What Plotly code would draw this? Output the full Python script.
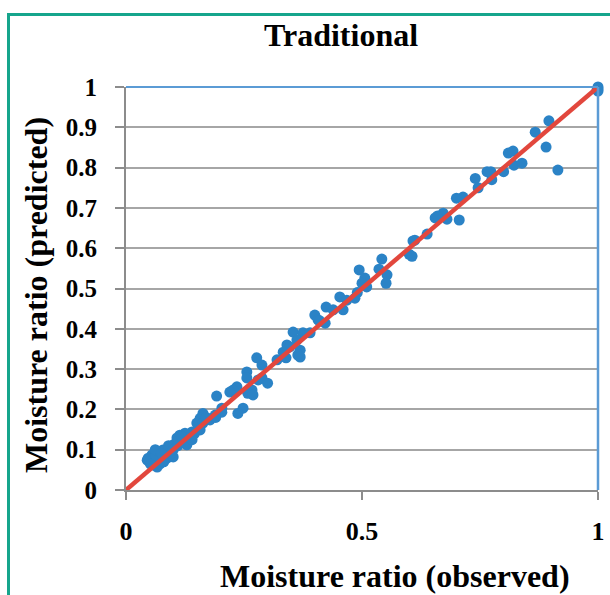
import plotly.graph_objects as go

observed = [
    1.0, 1.0, 1.0, 0.998,
    0.896, 0.867, 0.89, 0.915, 0.81, 0.82, 0.822, 0.839, 0.80,
    0.765, 0.773, 0.775, 0.74, 0.746, 0.714, 0.70, 0.706,
    0.672, 0.68, 0.655, 0.66, 0.638, 0.608, 0.612, 0.60, 0.606,
    0.542, 0.536, 0.553, 0.551, 0.494, 0.506, 0.50, 0.51, 0.49,
    0.453, 0.485, 0.468, 0.424, 0.439, 0.46, 0.40, 0.407, 0.422, 0.41,
    0.354, 0.375, 0.39, 0.362, 0.341, 0.347, 0.369, 0.333, 0.364, 0.339, 0.369,
    0.32, 0.277, 0.288, 0.256, 0.256, 0.28, 0.288, 0.30,
    0.267, 0.258, 0.269, 0.235, 0.227, 0.22, 0.192,
    0.248, 0.237, 0.203, 0.203,
    0.163, 0.157, 0.15, 0.163, 0.157, 0.178, 0.189, 0.19, 0.17,
    0.14, 0.125, 0.114, 0.108, 0.129, 0.129, 0.10, 0.093, 0.078, 0.072, 0.066,
    0.055, 0.047, 0.045, 0.057, 0.068, 0.078, 0.087, 0.057, 0.066, 0.072,
    0.089, 0.10, 0.11, 0.12, 0.085, 0.095, 0.06, 0.07, 0.08, 0.05, 0.063,
    0.09, 0.11, 0.135, 0.145, 0.052, 0.062, 0.075, 0.1, 0.118, 0.14,
]
predicted = [
    1.0, 0.995, 0.99, 0.993,
    0.916, 0.888, 0.851, 0.794, 0.836, 0.841, 0.806, 0.811, 0.79,
    0.79, 0.79, 0.77, 0.773, 0.75, 0.727, 0.724, 0.67,
    0.687, 0.672, 0.675, 0.68, 0.635, 0.618, 0.62, 0.585, 0.58,
    0.573, 0.548, 0.534, 0.513, 0.546, 0.526, 0.513, 0.504, 0.49,
    0.479, 0.476, 0.471, 0.454, 0.447, 0.447, 0.434, 0.422, 0.414, 0.42,
    0.392, 0.39, 0.39, 0.372, 0.36, 0.355, 0.347, 0.342, 0.335, 0.328, 0.33,
    0.323, 0.328, 0.31, 0.293, 0.278, 0.273, 0.278, 0.265,
    0.248, 0.24, 0.236, 0.256, 0.248, 0.243, 0.233,
    0.203, 0.19, 0.203, 0.193,
    0.19, 0.178, 0.166, 0.166, 0.149, 0.174, 0.186, 0.18, 0.18,
    0.144, 0.141, 0.136, 0.129, 0.129, 0.112, 0.112, 0.107, 0.099, 0.094, 0.092,
    0.087, 0.079, 0.074, 0.074, 0.069, 0.082, 0.079, 0.062, 0.057, 0.065,
    0.094, 0.082, 0.12, 0.125, 0.1, 0.09, 0.08, 0.075, 0.07, 0.07, 0.085,
    0.11, 0.11, 0.13, 0.14, 0.064, 0.1, 0.09, 0.1, 0.132, 0.125,
]
line_x = [0, 1]
line_y = [0, 1]
y_ticks = [0, 0.1, 0.2, 0.3, 0.4, 0.5, 0.6, 0.7, 0.8, 0.9, 1]
y_tick_text = ["0", "0.1", "0.2", "0.3", "0.4", "0.5", "0.6", "0.7", "0.8", "0.9", "1"]
x_ticks = [0, 0.5, 1]
x_tick_text = ["0", "0.5", "1"]

SERIF = "Liberation Serif, Times New Roman, serif"

fig = go.Figure()
fig.add_trace(go.Scatter(x=observed, y=predicted, mode="markers",
                         marker=dict(color="#2B83C6", size=11, line=dict(width=0)),
                         showlegend=False, cliponaxis=False))
fig.add_trace(go.Scatter(x=line_x, y=line_y, mode="lines",
                         line=dict(color="#E2473D", width=4.5),
                         showlegend=False))

L, R, T, B = 126, 12, 87, 105
W, H = 610, 595
pw, ph = W - L - R, H - T - B

def px_x(p):
    return (p - L) / pw

def px_y(p):
    return (H - B - p) / ph

fig.update_layout(
    width=W, height=H,
    autosize=False,
    margin=dict(l=L, r=R, t=T, b=B, pad=0, autoexpand=False),
    paper_bgcolor="white", plot_bgcolor="white",
    font=dict(family=SERIF, color="black"),
    xaxis=dict(range=[0, 1], tickvals=x_ticks,
               ticktext=["<b>" + t + "</b>" for t in x_tick_text],
               automargin=False,
               showgrid=False, zeroline=False, showline=True,
               linecolor="#8C8C8C", linewidth=2,
               ticks="outside", ticklen=8, tickcolor="#8C8C8C", tickwidth=2,
               ticklabelstandoff=9,
               tickfont=dict(family=SERIF, size=26, color="black")),
    yaxis=dict(range=[0, 1], tickvals=y_ticks,
               ticktext=["<b>" + t + "</b>" for t in y_tick_text],
               automargin=False,
               showgrid=True, gridcolor="#A6A6A6", gridwidth=2,
               zeroline=False, showline=True,
               linecolor="#8C8C8C", linewidth=2,
               ticks="outside", ticklen=9, tickcolor="#8C8C8C", tickwidth=2,
               ticklabelstandoff=13,
               tickfont=dict(family=SERIF, size=25, color="black")),
    shapes=[
        dict(type="line", xref="paper", yref="paper", x0=0, x1=1, y0=1, y1=1,
             line=dict(color="#5B9BD5", width=2)),
        dict(type="line", xref="paper", yref="paper", x0=1, x1=1, y0=0, y1=1,
             line=dict(color="#5B9BD5", width=2.5)),
        dict(type="rect", xref="paper", yref="paper",
             x0=px_x(8.5), x1=px_x(625), y0=px_y(615), y1=px_y(14.5),
             line=dict(color="#16A58C", width=3), layer="below"),
    ],
    annotations=[
        dict(text="<b>Traditional</b>", xref="paper", yref="paper",
             x=px_x(341), y=px_y(35), xanchor="center", yanchor="middle",
             showarrow=False, font=dict(family=SERIF, size=32, color="black")),
        dict(text="<b>Moisture ratio (observed)</b>", xref="paper", yref="paper",
             x=px_x(395), y=px_y(576), xanchor="center", yanchor="middle",
             showarrow=False, font=dict(family=SERIF, size=32, color="black")),
        dict(text="<b>Moisture ratio (predicted)</b>", xref="paper", yref="paper",
             x=px_x(36), y=px_y(295), xanchor="center", yanchor="middle",
             textangle=-90,
             showarrow=False, font=dict(family=SERIF, size=32, color="black")),
    ],
)

fig.write_html("out.html")
